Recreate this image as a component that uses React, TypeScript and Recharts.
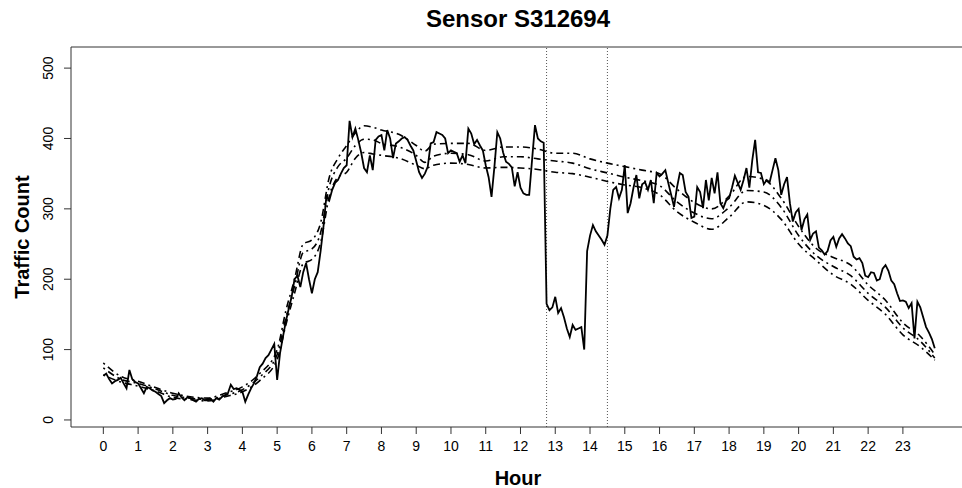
import React from 'react';
import { LineChart, Line, XAxis, YAxis, ReferenceLine } from 'recharts';

// Observed 5-minute traffic counts, grouped by 6-hour blocks (12 values per hour)
const countsNight = [
  63, 66, 58, 52, 55, 57, 60, 52, 45, 71, 58, 54,
  52, 45, 38, 47, 45, 42, 40, 37, 34, 24, 28, 31,
  29, 30, 38, 32, 28, 32, 31, 28, 26, 30, 31, 28,
  28, 30, 26, 31, 29, 33, 35, 38, 50, 44, 45, 43,
  40, 26, 36, 45, 52, 62, 75, 80, 88, 92, 100, 108,
  57, 95, 118, 140, 158, 175, 200, 205, 189, 210, 223, 200,
];
const countsMorning = [
  180, 200, 210, 240, 275, 318, 312, 327, 337, 341, 350, 358,
  362, 425, 402, 414, 398, 380, 358, 352, 376, 355, 398, 403,
  405, 383, 412, 400, 372, 393, 396, 400, 402, 398, 390, 383,
  368, 352, 344, 350, 360, 393, 395, 409, 407, 405, 400, 379,
  383, 381, 379, 367, 376, 365, 414, 407, 392, 398, 390, 383,
  362, 345, 317, 360, 409, 400, 380, 367, 364, 359, 332, 352,
];
const countsAfternoon = [
  330, 322, 320, 320, 370, 419, 400, 396, 394, 165, 156, 160,
  175, 152, 159, 146, 130, 118, 135, 128, 130, 132, 100, 240,
  262, 277, 268, 262, 256, 249, 262, 300, 327, 331, 315, 327,
  362, 294, 308, 330, 348, 315, 335, 338, 327, 341, 308, 351,
  346, 350, 355, 337, 320, 303, 330, 351, 348, 324, 317, 287,
  289, 331, 324, 301, 341, 312, 344, 322, 352, 308, 301, 312,
];
const countsEvening = [
  315, 330, 347, 337, 327, 341, 358, 330, 369, 398, 352, 351,
  335, 341, 338, 355, 372, 355, 320, 335, 345, 308, 282, 295,
  300, 270, 285, 292, 256, 265, 268, 245, 241, 235, 240, 255,
  260, 246, 258, 264, 258, 251, 247, 232, 228, 230, 223, 205,
  203, 210, 209, 198, 200, 215, 220, 212, 198, 193, 180, 169,
  170, 168, 159, 166, 116, 168, 160, 146, 132, 124, 115, 102,
];

// Expected profile (mean and bounds)
const bandHours = [
  0, 0.5, 1, 1.5, 2, 2.5, 3, 3.5, 4, 4.5,
  5, 5.25, 5.5, 5.75, 6, 6.25, 6.5, 6.75,
  7, 7.25, 7.5, 7.75, 8,
  8.5, 9, 9.25, 9.5, 10,
  10.5, 11, 11.5, 12, 12.5,
  13, 13.5, 14, 14.5, 15,
  15.5, 16, 16.5, 17, 17.5,
  18, 18.5, 19, 19.5, 20,
  20.5, 21, 21.5, 22, 22.5,
  23, 23.5, 23.917,
];
const upperBand = [
  81, 62, 55, 46, 38, 33, 31, 38, 47, 66,
  100, 155, 200, 250, 256, 280, 345, 372,
  390, 408, 418, 416, 412,
  406, 390, 382, 392, 393,
  393, 383, 388, 388, 385,
  379, 379, 371, 365, 360,
  355, 350, 328, 309, 300,
  318, 346, 342, 315, 275,
  244, 231, 220, 192, 170,
  138, 119, 93,
];
const meanBand = [
  74, 58, 52, 44, 35, 31, 29, 35, 43, 61,
  93, 145, 190, 238, 243, 266, 332, 360,
  372, 390, 399, 398, 393,
  388, 376, 366, 375, 379,
  377, 368, 374, 374, 371,
  368, 365, 357, 351, 345,
  340, 333, 310, 294, 286,
  302, 326, 324, 302, 262,
  234, 218, 205, 180, 160,
  131, 112, 88,
];
const lowerBand = [
  64, 54, 48, 41, 32, 29, 27, 33, 40, 56,
  86, 135, 180, 222, 228, 252, 318, 345,
  352, 372, 380, 378, 376,
  372, 362, 357, 362, 365,
  363, 358, 359, 358, 356,
  352, 350, 345, 339, 334,
  330, 320, 296, 281, 271,
  288, 310, 305, 285, 250,
  227, 206, 193, 170, 150,
  121, 104, 85,
];

const xTicks = [0, 1, 2, 3, 4, 5, 6, 7, 8, 9, 10, 11, 12, 13, 14, 15, 16, 17, 18, 19, 20, 21, 22, 23];
const yTicks = [0, 100, 200, 300, 400, 500];
const incidentStart = 12.75;
const incidentEnd = 14.5;

const allCounts = [...countsNight, ...countsMorning, ...countsAfternoon, ...countsEvening];
const observedData = allCounts.map((v, i) => ({ hour: i / 12, count: v }));
const upperData = bandHours.map((h, i) => ({ hour: h, value: upperBand[i] }));
const meanData = bandHours.map((h, i) => ({ hour: h, value: meanBand[i] }));
const lowerData = bandHours.map((h, i) => ({ hour: h, value: lowerBand[i] }));

const FONT = '"Liberation Sans", Arial, Helvetica, sans-serif';
const DASH = '2 4 7 4';

const XTick = (props: any) => {
  const { x, y, payload } = props;
  return (
    <text x={x} y={y} dy="0.71em" textAnchor="middle" fontSize={14} fontFamily={FONT} fill="#000">
      {payload.value}
    </text>
  );
};

const YTick = (props: any) => {
  const { x, y, payload } = props;
  return (
    <text x={x} y={y} textAnchor="middle" fontSize={14} fontFamily={FONT} fill="#000" transform={`rotate(-90, ${x}, ${y})`}>
      {payload.value}
    </text>
  );
};

export default function App() {
  return (
    <div style={{ position: 'absolute', left: 0, top: 0, width: 962, height: 488, background: '#fff' }}>
      <LineChart width={962} height={488} margin={{ top: 47, right: 0, bottom: 0, left: 0 }}>
        <XAxis
          type="number"
          dataKey="hour"
          domain={[-0.93, 24.7]}
          allowDataOverflow
          ticks={xTicks}
          interval={0}
          height={61}
          tickSize={7}
          tickMargin={7}
          tick={<XTick />}
          axisLine={{ stroke: '#333', strokeWidth: 1 }}
          tickLine={{ stroke: '#333', strokeWidth: 1 }}
        />
        <YAxis
          type="number"
          domain={[-10, 530]}
          allowDataOverflow
          ticks={yTicks}
          interval={0}
          width={71}
          tickSize={7}
          tickMargin={11}
          tick={<YTick />}
          axisLine={{ stroke: '#333', strokeWidth: 1 }}
          tickLine={{ stroke: '#333', strokeWidth: 1 }}
        />
        <ReferenceLine y={530} stroke="#333" strokeWidth={1} ifOverflow="extendDomain" />
        <ReferenceLine x={incidentStart} stroke="#555" strokeWidth={1} strokeDasharray="1 2" />
        <ReferenceLine x={incidentEnd} stroke="#555" strokeWidth={1} strokeDasharray="1 2" />
        <Line data={upperData} dataKey="value" type="monotone" stroke="#000" strokeWidth={1.6} strokeDasharray={DASH} dot={false} isAnimationActive={false} />
        <Line data={meanData} dataKey="value" type="monotone" stroke="#000" strokeWidth={1.6} strokeDasharray={DASH} dot={false} isAnimationActive={false} />
        <Line data={lowerData} dataKey="value" type="monotone" stroke="#000" strokeWidth={1.6} strokeDasharray={DASH} dot={false} isAnimationActive={false} />
        <Line data={observedData} dataKey="count" type="linear" stroke="#000" strokeWidth={1.8} dot={false} isAnimationActive={false} />
      </LineChart>
      <svg width={962} height={488} style={{ position: 'absolute', left: 0, top: 0, pointerEvents: 'none' }}>
        <text x={518} y={27} textAnchor="middle" fontSize={24} fontWeight="bold" fontFamily={FONT} fill="#000">
          Sensor S312694
        </text>
        <text x={518} y={485} textAnchor="middle" fontSize={20} fontWeight="bold" fontFamily={FONT} fill="#000">
          Hour
        </text>
        <text x={29} y={237} textAnchor="middle" fontSize={20} fontWeight="bold" fontFamily={FONT} fill="#000" transform="rotate(-90, 29, 237)">
          Traffic Count
        </text>
      </svg>
    </div>
  );
}
